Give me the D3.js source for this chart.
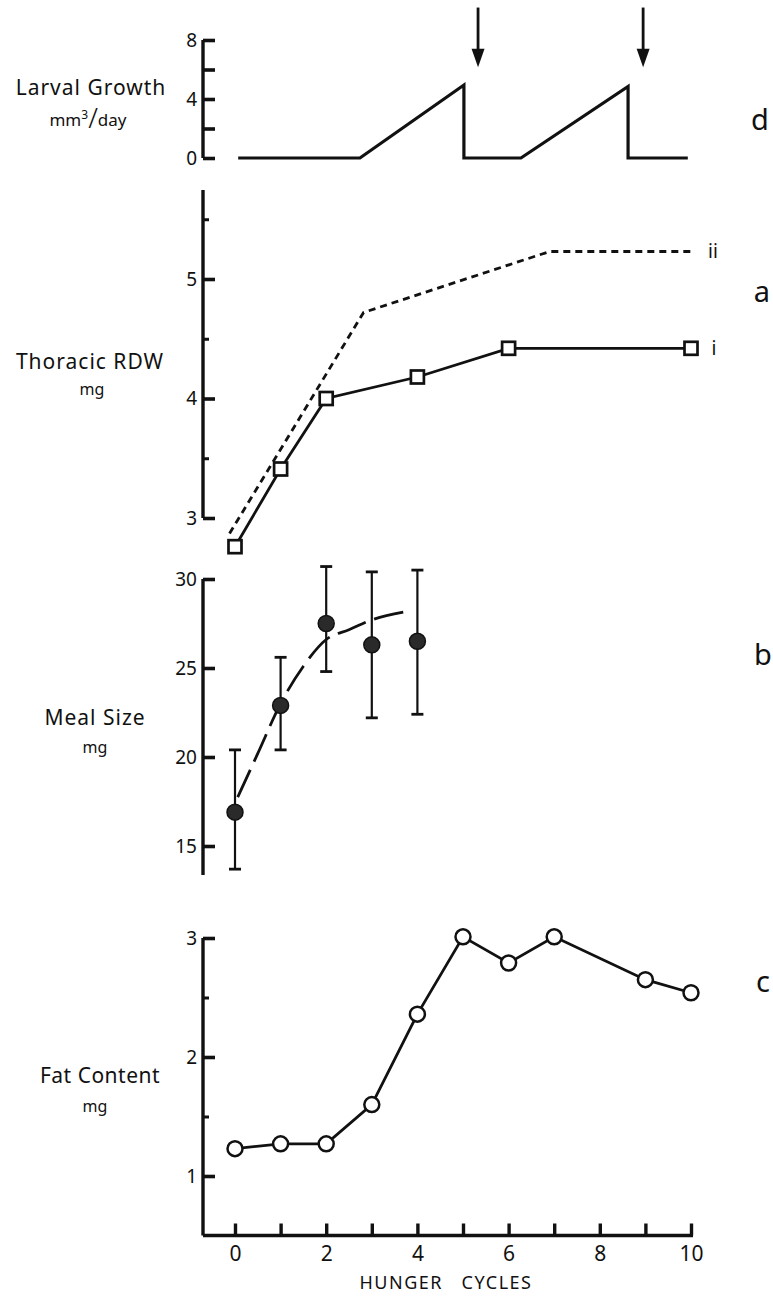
<!DOCTYPE html>
<html><head><meta charset="utf-8">
<script src="https://cdn.jsdelivr.net/npm/d3@7"></script>
<style>
body{margin:0;background:#fff}
text{font-family:"Noto Sans",sans-serif;fill:#111}
</style>
</head><body>
<svg id="chart" width="773" height="1296"></svg>
<script>
// ---- data ----
const cycleTicks = [0,1,2,3,4,5,6,7,8,9,10];
const cycleLabels = [0,2,4,6,8,10];

// panel d: larval growth (mm3/day)
const larvalX = [0.07, 2.74, 5.02, 5.02, 6.27, 8.62, 8.62, 9.93];
const larvalY = [0, 0, 4.95, 0, 0, 4.85, 0, 0];
const arrowX = [5.33, 8.95];
const larvalTicks = [0,2,4,6,8];
const larvalTickLabels = [0,4,8];

// panel a: thoracic RDW (mg)
const rdwIX = [0,1,2,4,6,10];
const rdwIY = [2.76,3.41,4.0,4.18,4.42,4.42];
const rdwIIX = [-0.12,2.82,6.9,10.0];
const rdwIIY = [2.87,4.72,5.23,5.23];
const rdwMajor = [3,4,5];
const rdwMinor = [3.5,4.5,5.5];

// panel b: meal size (mg)
const mealX = [0,1,2,3,4];
const mealY = [16.9,22.9,27.5,26.3,26.5];
const mealHi = [20.4,25.6,30.7,30.4,30.5];
const mealLo = [13.7,20.4,24.8,22.2,22.4];
const fitX = [0.06,0.5,1,1.5,2,2.5,3,3.72];
const fitY = [17.75,20.2,23.0,25.1,26.6,27.15,27.7,28.15];
const mealTicks = [15,20,25,30];

// panel c: fat content (mg)
const fatX = [0,1,2,3,4,5,6,7,9,10];
const fatY = [1.23,1.27,1.27,1.6,2.36,3.01,2.79,3.01,2.65,2.54];
const fatMajor = [1,2,3];
const fatMinor = [1.5,2.5];

// ---- scales ----
const svg = d3.select("#chart");
const x = d3.scaleLinear().domain([0,10]).range([235,691]);
const AX = 203;
const yD = d3.scaleLinear().domain([0,8]).range([158,40]);
const yA = d3.scaleLinear().domain([3,5]).range([518,279]);
const yB = d3.scaleLinear().domain([15,30]).range([846,579]);
const yC = d3.scaleLinear().domain([1,3]).range([1176,938]);

function yAxis(scale, majors, labels, minors, top, bot, tickLen){
  const g = svg.append("g");
  g.append("line").attr("x1",AX).attr("x2",AX)
    .attr("y1",scale(top)).attr("y2",scale(bot))
    .attr("stroke","#111").attr("stroke-width",3.4);
  const ax = g.append("g").attr("transform",`translate(${AX},0)`)
    .call(d3.axisLeft(scale).tickValues(majors).tickSizeInner(-tickLen).tickSizeOuter(0)
      .tickPadding(6).tickFormat(d => labels.includes(d) ? d : ""));
  ax.select(".domain").remove();
  ax.selectAll("line").attr("stroke","#111").attr("stroke-width",3.6);
  ax.selectAll("text").attr("font-size",19).attr("font-family","Noto Sans").attr("fill","#111");
  if (minors && minors.length){
    const mx = g.append("g").attr("transform",`translate(${AX},0)`)
      .call(d3.axisLeft(scale).tickValues(minors).tickSizeInner(-6).tickSizeOuter(0).tickFormat(""));
    mx.select(".domain").remove();
    mx.selectAll("line").attr("stroke","#111").attr("stroke-width",3);
  }
}

// ---- panel d ----
yAxis(yD, larvalTicks, larvalTickLabels, [], 8, 0, 12);
const lineD = d3.line().x(i => x(larvalX[i])).y(i => yD(larvalY[i]));
svg.append("path").attr("d", lineD(d3.range(larvalX.length)))
  .attr("fill","none").attr("stroke","#111").attr("stroke-width",3.2).attr("stroke-linejoin","miter");
arrowX.forEach(a => {
  const ax = x(a);
  svg.append("line").attr("x1",ax).attr("x2",ax).attr("y1",yD(10.2)).attr("y2",yD(7.0))
    .attr("stroke","#111").attr("stroke-width",2.8);
  svg.append("path")
    .attr("d",`M${ax-6.5},${yD(7.4)}L${ax+6.5},${yD(7.4)}L${ax},${yD(6.15)}Z`)
    .attr("fill","#111");
});

// ---- panel a ----
yAxis(yA, rdwMajor, rdwMajor, rdwMinor, 5.745, 3, 12);
const lineII = d3.line().x(i => x(rdwIIX[i])).y(i => yA(rdwIIY[i]));
svg.append("path").attr("d", lineII(d3.range(rdwIIX.length)))
  .attr("fill","none").attr("stroke","#111").attr("stroke-width",2.8).attr("stroke-dasharray","7,5");
const lineI = d3.line().x(i => x(rdwIX[i])).y(i => yA(rdwIY[i]));
svg.append("path").attr("d", lineI(d3.range(rdwIX.length)))
  .attr("fill","none").attr("stroke","#111").attr("stroke-width",2.8);
svg.selectAll(".sq").data(d3.range(rdwIX.length)).enter().append("rect")
  .attr("x", i => x(rdwIX[i]) - 6.5).attr("y", i => yA(rdwIY[i]) - 6.5)
  .attr("width",13).attr("height",13)
  .attr("fill","#fff").attr("stroke","#111").attr("stroke-width",2.7);

// ---- panel b ----
yAxis(yB, mealTicks, mealTicks, [], 30, 13.37, 12);
const fit = d3.line().curve(d3.curveMonotoneX).x(i => x(fitX[i])).y(i => yB(fitY[i]));
svg.append("path").attr("d", fit(d3.range(fitX.length)))
  .attr("fill","none").attr("stroke","#111").attr("stroke-width",2.8).attr("stroke-dasharray","30,9");
mealX.forEach((v,i) => {
  const cx = x(v);
  svg.append("line").attr("x1",cx).attr("x2",cx).attr("y1",yB(mealHi[i])).attr("y2",yB(mealLo[i]))
    .attr("stroke","#111").attr("stroke-width",2.2);
  [mealHi[i], mealLo[i]].forEach(e => {
    svg.append("line").attr("x1",cx-6).attr("x2",cx+6).attr("y1",yB(e)).attr("y2",yB(e))
      .attr("stroke","#111").attr("stroke-width",2.8);
  });
});
svg.selectAll(".dot").data(d3.range(mealX.length)).enter().append("circle")
  .attr("cx", i => x(mealX[i])).attr("cy", i => yB(mealY[i])).attr("r",8)
  .attr("fill","#2a2a2a").attr("stroke","#111").attr("stroke-width",1.5);

// ---- panel c ----
yAxis(yC, fatMajor, fatMajor, fatMinor, 3, 0.5, 12);
const lineC = d3.line().x(i => x(fatX[i])).y(i => yC(fatY[i]));
svg.append("path").attr("d", lineC(d3.range(fatX.length)))
  .attr("fill","none").attr("stroke","#111").attr("stroke-width",2.8);
svg.selectAll(".oc").data(d3.range(fatX.length)).enter().append("circle")
  .attr("cx", i => x(fatX[i])).attr("cy", i => yC(fatY[i])).attr("r",7.5)
  .attr("fill","#fff").attr("stroke","#111").attr("stroke-width",2.5);

// x axis
const xBase = yC(0.5);
svg.append("line").attr("x1",AX).attr("x2",x(10)+2).attr("y1",xBase).attr("y2",xBase)
  .attr("stroke","#111").attr("stroke-width",3.4);
const xa = svg.append("g").attr("transform",`translate(0,${xBase})`)
  .call(d3.axisBottom(x).tickValues(cycleTicks).tickSizeInner(-12).tickSizeOuter(0).tickPadding(11)
    .tickFormat(d => cycleLabels.includes(d) ? d : ""));
xa.select(".domain").remove();
xa.selectAll("line").attr("stroke","#111").attr("stroke-width",3.4);
xa.selectAll("text").attr("font-size",21).attr("font-family","Noto Sans").attr("fill","#111");

// ---- labels ----
function label(t, lx, ly, size, opts={}){
  const el = svg.append("text").attr("x",lx).attr("y",ly).attr("font-size",size)
    .attr("text-anchor", opts.anchor || "middle").text(t);
  if (opts.ls) el.attr("letter-spacing", opts.ls);
  return el;
}
label("Larval Growth", 91, 95, 21, {ls:1});
const mm = svg.append("text").attr("x",88).attr("y",126).attr("font-size",17).attr("text-anchor","middle");
mm.append("tspan").text("mm");
mm.append("tspan").attr("dy",-7).attr("font-size",12).text("3");
mm.append("tspan").attr("dy",9).attr("font-size",28).attr("font-weight",300).text("/");
mm.append("tspan").attr("dy",-2).attr("font-size",17).text("day");

label("Thoracic RDW", 90, 369, 21, {ls:1});
label("mg", 92, 395, 16);
label("Meal Size", 95, 725, 21, {ls:1});
label("mg", 95, 753, 16);
label("Fat Content", 100, 1083, 21, {ls:0.5});
label("mg", 95, 1112, 16);
label("HUNGER   CYCLES", 446, 1289, 18, {ls:1.5}).attr("xml:space","preserve").style("white-space","pre");

label("d", 760, 130, 29);
label("a", 762, 302, 29);
label("b", 763, 665, 29);
label("c", 763, 992, 29);
label("ii", 713, 258, 19);
label("i", 714, 355, 19);
</script>
</body></html>
